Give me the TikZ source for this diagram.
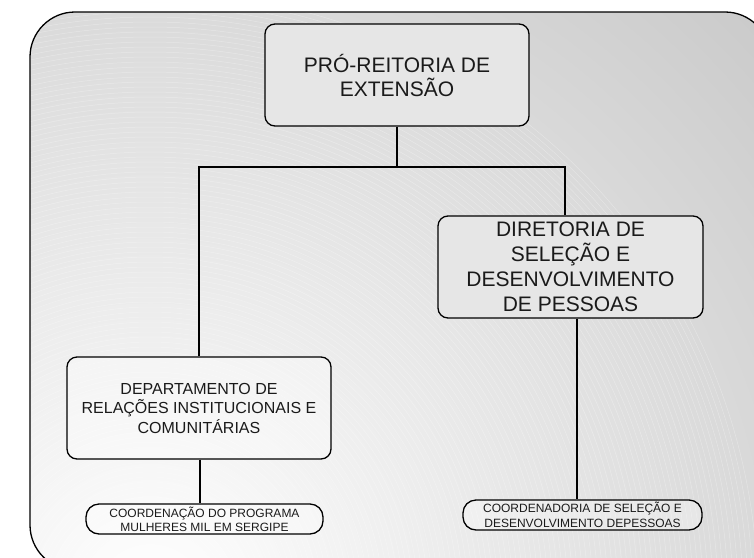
\documentclass[tikz,border=0pt]{standalone}
\usepackage{fontspec}
\setmainfont{Liberation Sans}
\definecolor{bggray}{HTML}{B3B3B3}
\definecolor{boxgray}{HTML}{E6E6E6}
\definecolor{txt}{HTML}{1A1A1A}
\tikzset{
  box/.style={draw=black, line width=1.3pt, rounded corners=10pt, fill=boxgray,
    align=center, inner sep=0pt, text=txt},
  smallbox/.style={box, rounded corners=13pt, fill=white, fill opacity=.3, text opacity=1},
  conn/.style={draw=black, line width=1.3pt},
}
\begin{document}
\begin{tikzpicture}[x=1pt,y=-1pt]
\useasboundingbox (0,0) rectangle (754,557);
\clip (0,0) rectangle (754,557);
% background panel
\begin{scope}
  \clip[rounded corners=45pt] (30,12) rectangle (770,570);
  \shade[inner color=white, outer color=bggray] (150,600) circle (1220);
  \foreach \r in {8,13,...,610}
    \draw[white, opacity=.3, line width=.5pt] (150,600) circle (\r);
\end{scope}
\draw[line width=1.3pt, rounded corners=45pt] (30,12) rectangle (770,570);

% nodes
\node[box, minimum width=264, minimum height=102, font=\fontsize{21}{24}\selectfont]
  (pro) at (397,75) {PRÓ-REITORIA DE\\EXTENSÃO};
\node[box, minimum width=265, minimum height=102, font=\fontsize{21}{25}\selectfont]
  (dir) at (570.5,267) {DIRETORIA DE\\SELEÇÃO E\\DESENVOLVIMENTO\\DE PESSOAS};
\node[box, fill=white, fill opacity=.35, text opacity=1, minimum width=264, minimum height=102,
  font=\fontsize{16}{19.5}\selectfont]
  (dep) at (199,408) {DEPARTAMENTO DE\\RELAÇÕES INSTITUCIONAIS E\\COMUNITÁRIAS};
\node[smallbox, minimum width=237, minimum height=30, font=\fontsize{12}{14}\selectfont]
  (mul) at (204.5,519) {COORDENAÇÃO DO PROGRAMA\\MULHERES MIL EM SERGIPE};
\node[smallbox, minimum width=239, minimum height=30, font=\fontsize{12}{14.5}\selectfont]
  (crd) at (582.5,515) {COORDENADORIA DE SELEÇÃO E\\DESENVOLVIMENTO DEPESSOAS};

% connectors
\coordinate (j) at (397,167);
\draw[conn] (pro.south) -- (j);
\draw[conn] (dep.north) |- (j) -| ([xshift=-5.5pt]dir.north);
\draw[conn] ([xshift=1pt]dep.south) -- ([xshift=-4.5pt]mul.north);
\draw[conn] ([xshift=6.5pt]dir.south) -- ([xshift=-5.5pt]crd.north);
\end{tikzpicture}
\end{document}
